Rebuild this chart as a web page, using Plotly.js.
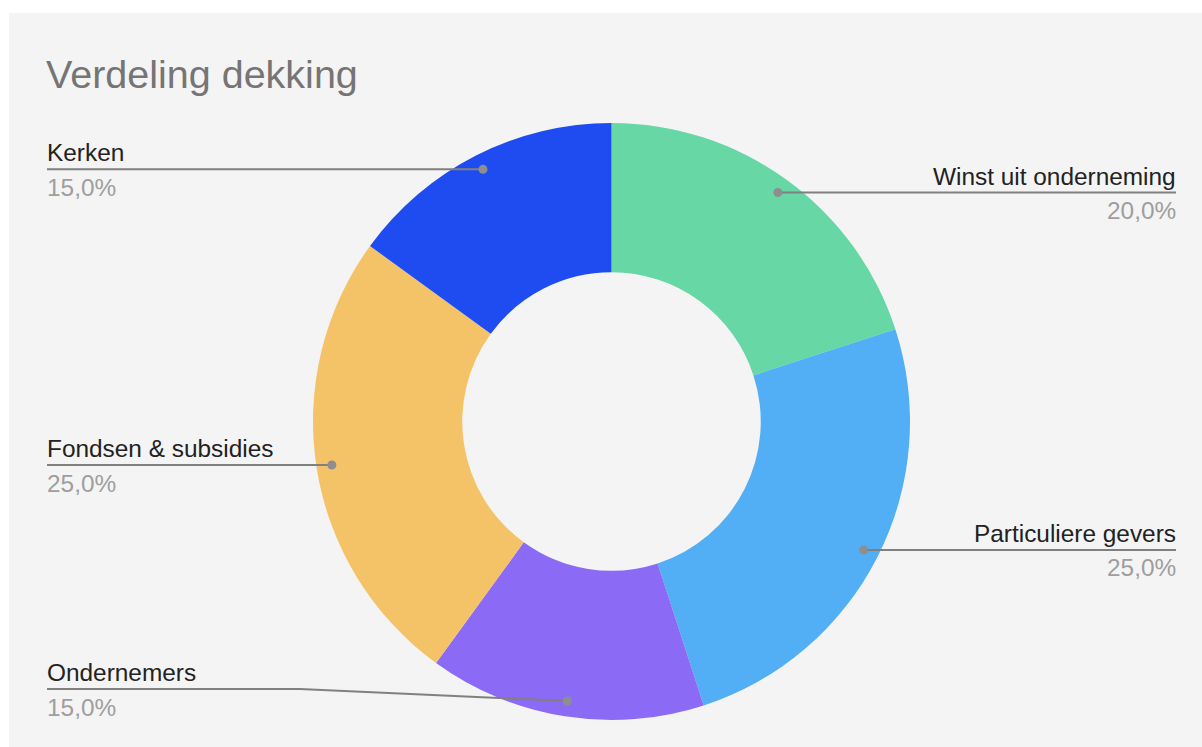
<!DOCTYPE html>
<html>
<head>
<meta charset="utf-8">
<script src="https://cdn.plot.ly/plotly-3.0.1.min.js"></script>
<style>
  html, body { margin: 0; padding: 0; background: #ffffff; }
  #chart { position: absolute; left: 9px; top: 13px; width: 1193px; height: 734px; }
</style>
</head>
<body>
<div id="chart"></div>
<script>
// ---- data ----
const categories = ['Winst uit onderneming', 'Particuliere gevers', 'Ondernemers', 'Fondsen & subsidies', 'Kerken'];
const values = [20, 25, 15, 25, 15];
const chartTitle = 'Verdeling dekking';

// ---- styles / layout ----
const sliceColors = ['#67d7a6', '#52aef5', '#8b6bf5', '#f5c367', '#1e4cf0'];
const FONT = '"Liberation Sans", Arial, sans-serif';
const W = 1193, H = 734;
const cx = 602.5, cy = 408.5, R = 298.5, HOLE = 0.5;
const dotR = 283, dotSize = 4.5;
const leftX = 38, rightX = 1167, textPad = 2;
// label placement adjustments (layout, not data)
const labelAdjust = {
  'Fondsen & subsidies': { y: 452, slide: true },
  'Ondernemers': { y: 676, kinkX: 291 }
};

const total = values.reduce((a, b) => a + b, 0);
const traces = [{
  type: 'pie',
  labels: categories,
  values: values,
  hole: HOLE,
  sort: false,
  direction: 'clockwise',
  rotation: 0,
  textinfo: 'none',
  hoverinfo: 'label+percent',
  marker: { colors: sliceColors, line: { width: 0 } },
  domain: {
    x: [(cx - R) / W, (cx + R) / W],
    y: [(H - cy - R) / H, (H - cy + R) / H]
  },
  showlegend: false
}];

const annotations = [{
  xref: 'x', yref: 'y', x: leftX - textPad - 1, y: 61, xanchor: 'left', yanchor: 'middle',
  text: chartTitle, showarrow: false, font: { family: FONT, size: 39.5, color: '#757575' }
}];
const shapes = [];

let cum = 0;
values.forEach((v, i) => {
  const mid = (cum + v / 2) / total * 2 * Math.PI;
  cum += v;
  let dx = cx + dotR * Math.sin(mid);
  let dy = cy - dotR * Math.cos(mid);
  const right = Math.sin(mid) > 0;
  const adj = labelAdjust[categories[i]] || {};
  let ly = dy;
  const lx = right ? rightX : leftX;
  let pts;
  if (adj.y !== undefined) {
    ly = adj.y;
    if (adj.slide) {
      const off = Math.sqrt(dotR * dotR - (ly - cy) * (ly - cy));
      dx = right ? cx + off : cx - off;
      dy = ly;
      pts = [[lx, ly], [dx, dy]];
    } else {
      pts = [[lx, ly], [adj.kinkX, ly], [dx, dy]];
    }
  } else {
    pts = [[lx, ly], [dx, dy]];
  }
  shapes.push({
    type: 'path', xref: 'x', yref: 'y', layer: 'above',
    path: pts.map((p, k) => (k ? 'L' : 'M') + p[0] + ',' + p[1]).join(' '),
    line: { color: '#808080', width: 2 }
  });
  shapes.push({
    type: 'circle', xref: 'x', yref: 'y', layer: 'above',
    x0: dx - dotSize, x1: dx + dotSize, y0: dy - dotSize, y1: dy + dotSize,
    fillcolor: '#8e8e8e', line: { width: 0 }
  });
  const pct = (v / total * 100).toFixed(1).replace('.', ',') + '%';
  const tx = right ? lx + textPad : lx - textPad;
  annotations.push({
    xref: 'x', yref: 'y', x: tx, y: ly - 16.5, xanchor: right ? 'right' : 'left', yanchor: 'middle',
    text: categories[i], showarrow: false, font: { family: FONT, size: 24.4, color: '#222222' }
  });
  annotations.push({
    xref: 'x', yref: 'y', x: tx, y: ly + 18, xanchor: right ? 'right' : 'left', yanchor: 'middle',
    text: pct, showarrow: false, font: { family: FONT, size: 24.4, color: '#9e9e9e' }
  });
});

const layout = {
  width: W, height: H,
  margin: { l: 0, r: 0, t: 0, b: 0 },
  paper_bgcolor: '#f4f4f4', plot_bgcolor: 'rgba(0,0,0,0)',
  xaxis: { range: [0, W], visible: false, fixedrange: true },
  yaxis: { range: [H, 0], visible: false, fixedrange: true },
  showlegend: false,
  shapes: shapes,
  annotations: annotations
};

Plotly.newPlot('chart', traces, layout, { displayModeBar: false, staticPlot: true });
</script>
</body>
</html>
